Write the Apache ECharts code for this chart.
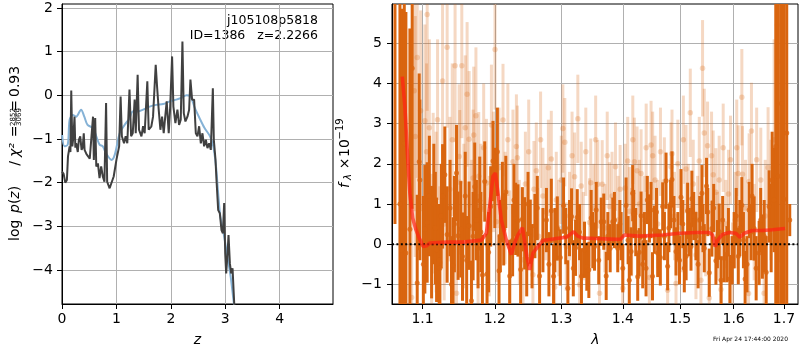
<!DOCTYPE html>
<html>
<head>
<meta charset="utf-8">
<script src="https://cdn.jsdelivr.net/npm/echarts@6.0.0/dist/echarts.min.js"></script>
<style>
  html, body { margin: 0; padding: 0; background: #fff; }
  #chart { width: 800px; height: 350px; }
</style>
</head>
<body>
<div id="chart"></div>
<script>
"use strict";

// ---- left panel: log p(z) ----
const zFit = [0.00,0.03,0.06,0.09,0.11,0.14,0.155,0.17,0.19,0.21,0.23,0.245,0.26,0.29,0.31,0.335,0.36,0.38,0.40,0.415,0.45,0.48,0.51,0.54,0.57,0.585,0.61,0.63,0.66,0.69,0.72,0.75,0.78,0.81,0.83,0.875,0.905,0.95,1.00,1.05,1.077,1.10,1.14,1.17,1.20,1.24,1.27,1.30,1.335,1.355,1.39,1.415,1.46,1.49,
  1.519,1.568,1.593,1.642,1.673,1.722,1.747,1.777,1.808,1.839,1.869,1.900,1.924,1.961,1.986,2.023,2.047,2.084,2.121,2.152,2.182,2.213,2.238,2.268,2.305,2.336,2.360,2.391,2.428,2.459,2.489,2.520,2.551,2.581,2.612,2.643,2.673,2.704,2.735,2.772,2.790,2.821,2.839,2.870,2.900,2.931,2.956,2.980,2.999,3.017,3.042,3.060,3.085,3.109,3.134,3.165,3.20];
const logpFit = [-1.75,-1.80,-2.00,-1.94,-1.40,-1.17,-1.30,0.11,-1.17,-0.94,-0.49,-1.20,-1.10,-1.30,-1.02,-0.94,-1.25,-1.20,-0.87,-1.25,-1.35,-1.40,-1.45,-1.48,-0.49,-1.48,-0.52,-1.63,-1.56,-1.90,-1.63,-1.86,-1.98,-0.18,-1.98,-2.13,-2.09,-1.86,-1.48,-1.17,-0.03,-0.94,-1.10,-0.94,-1.10,0.13,-0.94,-0.87,-0.10,-0.87,0.47,-0.79,-0.94,-0.71,
  -0.87,0.32,-0.79,-0.71,-0.49,0.70,0.20,-0.33,-0.79,-0.49,-0.87,-0.45,-0.14,-0.87,-0.33,0.89,-0.26,-0.64,-0.33,-0.68,-0.56,1.23,-0.41,-0.60,-0.49,-0.33,0.36,-0.10,-0.10,-0.87,-0.94,-0.71,-1.10,-0.87,-1.17,-1.02,-1.21,-1.10,-1.25,0.16,-1.02,-1.48,-1.94,-2.63,-2.70,-3.09,-3.16,-2.47,-3.62,-4.08,-3.62,-3.20,-3.85,-4.08,-3.96,-4.78,-5.40];
const zPrior = [0.003,0.045,0.106,0.14,0.20,0.26,0.35,0.41,0.47,0.57,0.63,0.69,0.75,0.81,0.91,0.97,1.06,1.15,1.24,1.30,1.40,1.49,1.61,1.73,1.86,1.98,2.10,2.19,2.29,2.36,2.44,2.53,2.62,2.72,2.78,2.83,2.87,2.91,2.97,3.03,3.10,3.16,3.22];
const logpPrior = [-0.91,-1.17,-1.13,-0.56,-0.45,-0.49,-0.33,-0.49,-0.68,-0.75,-0.94,-1.13,-1.17,-1.33,-1.48,-1.36,-0.87,-0.68,-0.53,-0.37,-0.37,-0.33,-0.26,-0.22,-0.20,-0.14,-0.10,-0.06,0.00,-0.02,-0.29,-0.53,-0.75,-0.94,-1.17,-1.63,-2.25,-2.78,-3.16,-3.62,-4.16,-4.78,-5.30];
const zTicks = [0, 1, 2, 3, 4];
const logpTicks = [-4, -3, -2, -1, 0, 1, 2];

// ---- right panel: spectrum (binned = dark, unbinned = light) ----
const binWave = [1.0640,1.0704,1.0726,1.0760,1.0781,1.0833,1.0863,1.0929,1.0955,1.0964,1.1030,1.1061,1.1120,1.1150,1.1187,1.1222,1.1231,1.1268,1.1299,1.1330,1.1412,1.1459,1.1481,1.1518,1.1542,1.1634,1.1667,1.1713,1.1737,1.1784,1.1822,1.1855,1.1888,1.1941,1.1974,1.2037,1.2061,1.2110,1.2129,1.2217,1.2305,1.2339,1.2379,1.2405,1.2439,1.2524,1.2594,1.2665,1.2716,1.2808,1.2845,1.2938,1.2984,1.3036,1.3104,1.3162,1.3226,1.3253,1.3369,1.3406,1.3439,1.3477,1.3503,1.3531,1.3559,1.3640,1.3683,1.3723,1.3789,1.3832,1.3860,1.3915,1.3972,1.4056,1.4141,1.4168,1.4185,1.4254,1.4312,1.4340,1.4398,1.4456,1.4485,1.4543,1.4601,1.4648,1.4689,1.4749,1.4777,1.4830,1.4855,1.4927,1.5017,1.5077,1.5137,1.5199,1.5215,1.5290,1.5401,1.5444,1.5486,1.5537,1.5587,1.5662,1.5724,1.5819,1.5871,1.5928,1.6010,1.6159,1.6223,1.6302,1.6400,1.6499,1.6564,1.6698,1.6799,1.6833,1.6886,1.6950,1.7002,1.7057,1.7119,
  1.1010,1.1090,1.1170,1.1250,1.1370,1.1390,1.1430,1.1580,1.1600,1.1690,1.1760,1.1800,1.1910,1.2000,1.2080,1.2160,1.2260,1.2280,1.2470,1.2490,1.2550,1.2630,1.2770,1.2880,1.2900,1.3070,1.3130,1.3190,1.3290,1.3320,1.3600,1.3750,1.3950,1.4000,1.4090,1.4110,1.4220,1.4280,1.4370,1.4420,1.4510,1.4580,1.4720,1.4800,1.4890,1.4960,1.4990,1.5050,1.5110,1.5170,1.5250,1.5330,1.5360,1.5420,1.5510,1.5620,1.5690,1.5760,1.5790,1.5900,1.5970,1.6050,1.6090,1.6120,1.6190,1.6260,1.6340,1.6360,1.6440,1.6530,1.6600,1.6640,1.6740,1.6760];
const binFlux = [6.5,1.0,-0.14,2.5,-0.22,0.37,4.38,-0.97,2.05,1.60,0.37,0.54,0.05,1.00,-0.14,-0.40,-0.60,1.19,1.73,0.24,-0.53,1.77,0.21,0.37,-0.31,0.46,-1.41,1.43,0.60,1.08,-0.77,1.56,-0.74,0.94,2.07,2.30,-0.66,1.05,0.37,-0.79,0.63,0.59,-0.63,0.62,0.27,0.31,0.45,-0.79,0.10,-0.50,0.83,0.39,-0.33,0.96,-1.10,0.69,-0.09,0.67,-0.14,-0.56,-0.64,0.65,0.10,-0.06,0.85,0.56,0.56,-0.79,-0.10,0.56,0.60,-0.10,0.20,0.96,-0.18,1.27,0.75,-0.81,0.71,-0.50,-0.60,0.64,0.85,0.36,-0.22,-0.33,0.94,1.58,-0.55,1.00,1.61,-0.18,1.17,-0.60,0.83,-0.06,1.13,0.20,1.27,-0.10,1.45,-0.71,0.39,-0.41,0.31,-0.35,-0.25,-0.87,0.10,0.97,-0.87,0.85,0.39,-0.22,-0.06,0.94,1.10,2.43,1.69,3.50,1.12,2.77,0.60,
  -0.5,1.2,0.4,0.7,0.9,-1.0,0.5,1.2,-0.4,0.2,-0.1,0.3,-0.2,1.4,0.2,1.3,0.1,1.1,-0.5,1.0,-0.3,0.9,0.6,-0.8,0.1,0.2,0.4,-0.6,0.3,-0.8,-0.4,0.2,0.5,-0.6,0.1,-0.9,0.3,-0.2,0.2,1.1,-0.8,0.8,0.2,0.4,0.6,0.2,-0.4,0.5,-0.3,0.3,0.7,-0.5,0.6,0.4,0.8,0.9,0.0,-0.9,0.6,0.3,-0.4,0.7,-0.3,0.4,0.1,-0.5,0.3,1.2,-0.6,0.6,0.2,-0.7,0.4,1.6];
const binErr = [6.0,7.0,6.0,6.0,6.0,5.0,3.5,2.2,2.2,2.0,1.6,1.5,1.4,1.5,1.3,1.4,1.2,1.3,1.2,1.2,1.2,1.2,1.1,1.2,1.1,1.1,1.0,1.1,1.0,1.1,1.0,1.0,1.0,1.0,1.0,1.1,0.9,1.0,0.9,0.9,0.9,0.9,0.9,0.8,0.9,0.8,0.8,0.8,0.8,0.8,0.8,0.8,0.7,0.7,0.7,0.7,0.7,0.7,0.7,0.6,0.7,0.7,0.7,0.6,0.7,0.6,0.7,0.6,0.6,0.6,0.7,0.6,0.6,0.7,0.6,0.7,0.6,0.6,0.6,0.6,0.7,0.6,0.7,0.6,0.6,0.7,0.6,0.7,0.6,0.6,0.7,0.6,0.7,0.6,0.7,0.6,0.7,0.6,0.7,0.6,0.7,0.6,0.7,0.6,0.7,0.6,0.7,0.6,0.7,0.7,0.7,0.7,0.8,0.8,0.8,0.9,1.3,4.0,5.0,8.0,8.0,8.0,0.4,
  1.7,1.5,1.4,1.3,1.2,1.2,1.2,1.1,1.1,1.1,1.0,1.0,1.0,1.0,0.9,0.9,0.9,0.9,0.8,0.8,0.8,0.8,0.8,0.8,0.8,0.7,0.7,0.7,0.7,0.7,0.6,0.6,0.6,0.6,0.6,0.6,0.6,0.6,0.6,0.6,0.6,0.6,0.6,0.6,0.6,0.6,0.6,0.6,0.6,0.6,0.6,0.6,0.6,0.6,0.6,0.6,0.6,0.6,0.6,0.6,0.6,0.7,0.7,0.7,0.7,0.7,0.7,0.8,0.8,0.8,0.9,0.9,1.1,1.2];

const rawWave = [1.0856,1.0890,1.0903,1.0929,1.0974,1.1030,1.1053,1.1061,1.1120,1.1141,1.1231,1.1268,1.1330,1.1367,1.1439,1.1459,1.1495,1.1504,1.1532,1.1606,1.1634,1.1690,1.1699,1.1760,1.1770,1.1879,1.1951,1.2003,1.2023,1.2119,1.2217,1.2265,1.2316,1.2330,1.2414,1.2564,1.2579,1.2615,1.2716,1.2845,1.2896,1.2922,1.3025,1.3056,1.3078,1.3210,1.3262,1.3289,1.3316,1.3450,1.3470,1.3585,1.3613,1.3657,1.3777,1.3877,1.3955,1.3999,1.4083,1.4112,1.4197,1.4243,1.4283,1.4312,1.4456,1.4485,1.4513,1.4555,1.4719,1.4777,1.4838,1.4855,1.4927,1.5108,1.5186,1.5290,1.5351,1.5382,1.5412,1.5444,1.5505,1.5537,1.5611,1.5662,1.5724,1.5757,1.5901,1.5978,1.6088,1.6159,1.6171,1.6290,1.6302,1.6347,1.6532,1.6598,1.6678,1.6732,1.6865,1.6900,
  1.2060,1.2150,1.2190,1.2360,1.2450,1.2500,1.2650,1.2680,1.2760,1.2800,1.2960,1.3000,1.1090,1.1180,1.1200,1.1290,1.1400,1.1560,1.1580,1.1670,1.1730,1.1800,1.1840,1.1920,1.1980,1.3130,1.3170,1.3350,1.3390,1.3520,1.3550,1.3700,1.3740,1.3820,1.3920,1.4040,1.4150,1.4170,1.4370,1.4400,1.4600,1.4650,1.4900,1.4960,1.5030,1.5060,1.5150,1.5240,1.5320,1.5470,1.5580,1.5690,1.5800,1.5850,1.5940,1.6030,1.6060,1.6230,1.6400,1.6450,1.6620,1.6800,1.6940];
const rawFlux = [-1.33,3.82,2.68,4.65,3.32,3.07,2.30,5.72,-0.25,1.27,-0.46,4.06,4.90,1.37,4.44,-1.22,2.18,1.54,4.44,3.73,2.61,1.65,2.72,-0.35,1.69,1.52,2.97,4.85,0.56,3.09,-0.06,2.05,2.43,2.15,-0.39,-0.76,1.37,1.83,1.20,2.12,-1.07,1.10,2.88,2.54,-0.06,1.68,3.12,-1.01,1.45,0.54,1.53,1.49,-1.22,1.49,0.94,1.93,1.37,-1.10,2.07,0.82,2.05,1.83,1.00,1.76,-0.83,2.47,2.20,1.60,1.56,-1.15,1.93,2.25,-0.98,1.87,3.27,-0.27,2.07,-0.90,4.38,2.77,2.45,-1.34,1.73,1.29,1.60,-1.13,1.25,-0.56,1.76,3.66,1.74,-1.23,1.56,2.82,1.60,-1.22,1.91,1.10,5.46,4.55,
  1.9,0.9,2.6,0.3,1.5,2.3,0.2,2.6,0.8,1.9,0.4,1.6,2.9,0.8,3.1,0.5,2.6,0.7,2.9,0.4,3.2,0.9,2.4,0.2,1.8,0.7,2.2,0.2,2.3,0.9,2.6,0.4,2.2,1.2,0.6,1.4,0.3,2.6,0.6,2.4,0.5,2.3,0.7,2.0,0.4,2.6,0.9,1.5,0.6,0.3,2.2,0.2,2.4,0.5,2.1,0.6,2.4,0.9,0.3,2.1,0.7,2.6,3.5];
const rawErr = [3.0,3.0,3.0,3.0,2.5,2.4,2.2,2.4,2.0,2.0,1.9,2.0,2.0,1.8,1.9,1.8,1.8,1.8,1.8,1.8,1.7,1.7,1.7,1.6,1.6,1.6,1.5,1.5,1.5,1.4,1.4,1.3,1.3,1.3,1.3,1.2,1.2,1.2,1.2,1.2,1.2,1.2,1.1,1.1,1.1,1.1,1.1,1.1,1.1,1.1,1.1,1.1,1.1,1.1,1.1,1.1,1.1,1.1,1.1,1.1,1.1,1.1,1.1,1.1,1.1,1.1,1.1,1.1,1.1,1.1,1.1,1.1,1.1,1.1,1.1,1.1,1.1,1.1,1.2,1.1,1.1,1.1,1.1,1.1,1.1,1.1,1.1,1.1,1.2,1.2,1.2,1.2,1.2,1.2,1.3,1.3,1.5,1.5,4.0,5.0,
  1.5,1.4,1.4,1.3,1.3,1.3,1.2,1.2,1.2,1.2,1.2,1.1,2.2,2.0,2.0,1.9,1.9,1.8,1.8,1.7,1.7,1.6,1.6,1.5,1.5,1.1,1.1,1.1,1.1,1.1,1.1,1.1,1.1,1.1,1.1,1.1,1.1,1.1,1.1,1.1,1.1,1.1,1.1,1.1,1.1,1.1,1.1,1.1,1.1,1.1,1.1,1.1,1.1,1.1,1.1,1.2,1.2,1.2,1.2,1.3,1.4,2.5,5.0];

const modelWave = [1.0734,1.0768,1.0798,1.0833,1.0869,1.0912,1.0955,1.1008,1.1053,1.1097,1.1322,1.1550,1.1808,1.1879,1.1926,1.1974,1.2008,1.2046,1.2095,1.2168,1.2242,1.2290,1.2339,1.2405,1.2424,1.2473,1.2514,1.2564,1.2639,1.2716,1.2922,1.3078,1.3130,1.3194,1.3262,1.3342,1.3559,1.3888,1.3972,1.4028,1.4283,1.4689,1.4986,1.5290,1.5537,1.5598,1.5649,1.5692,1.5787,1.5914,1.6043,1.6120,1.6204,1.6366,1.6564,1.6764,1.7022];
const modelFlux = [4.17,3.43,2.35,1.27,0.65,0.36,0.15,-0.06,-0.04,0.03,0.05,0.05,0.10,0.28,0.94,1.69,1.77,1.27,0.60,0.10,-0.26,0.03,0.23,0.41,0.23,-0.31,-0.64,-0.22,-0.06,0.09,0.14,0.17,0.23,0.31,0.20,0.15,0.14,0.12,0.13,0.23,0.20,0.23,0.27,0.29,0.29,0.23,-0.06,0.10,0.24,0.29,0.27,0.17,0.27,0.34,0.34,0.36,0.39];
const waveTicks = [1.1, 1.2, 1.3, 1.4, 1.5, 1.6, 1.7];
const fluxTicks = [-1, 0, 1, 2, 3, 4, 5];

const FONT = "DejaVu Sans";
const ORANGE = "#d9650f";
const GRID_GRAY = "#b0b0b0";

const minus = (v) => String(v).replace("-", "\u2212");

function axisStyle(ticks, formatter, margin) {
  return {
    axisLine: { show: true, onZero: false, lineStyle: { color: "#000", width: 1 } },
    axisTick: { show: true, length: 5, customValues: ticks, lineStyle: { color: "#000", width: 1 } },
    axisLabel: { customValues: ticks, formatter, color: "#000", fontFamily: FONT, fontSize: 14, margin },
    splitLine: { show: true, lineStyle: { color: GRID_GRAY, width: 1 } },
  };
}

// vertical error bar drawn through the axes' own coordinate mapping
function errorBars(color, width) {
  return (params, api) => {
    const x = api.value(0), y = api.value(1), e = api.value(2);
    const a = api.coord([x, y - e]);
    const b = api.coord([x, y + e]);
    return {
      type: "line",
      shape: { x1: a[0], y1: a[1], x2: b[0], y2: b[1] },
      style: { stroke: color, lineWidth: width },
    };
  };
}

const zip2 = (xs, ys) => xs.map((x, i) => [x, ys[i]]);
const zip3 = (xs, ys, es) => xs.map((x, i) => [x, ys[i], es[i]]);

function txt(text, x, y, size, align, extra) {
  return {
    type: "text", x, y, silent: true,
    style: Object.assign({ text, fontFamily: FONT, fontSize: size, fill: "#000", align, verticalAlign: "middle" }, extra || {}),
  };
}
const italic = { fontStyle: "italic" };

const chart = echarts.init(document.getElementById("chart"), null, { renderer: "canvas" });

chart.setOption({
  animation: false,
  backgroundColor: "#fff",
  textStyle: { fontFamily: FONT },
  grid: [
    { left: 62, top: 4, width: 271, height: 300, show: true, borderColor: "#000", borderWidth: 1, backgroundColor: "transparent" },
    { left: 392, top: 4, width: 406, height: 300, show: true, borderColor: "#000", borderWidth: 1, backgroundColor: "transparent" },
  ],
  xAxis: [
    Object.assign({ type: "value", gridIndex: 0, min: 0, max: 4.98 }, axisStyle(zTicks, (v) => String(v), 8)),
    Object.assign({ type: "log", logBase: 10, gridIndex: 1, min: 1.0602, max: 1.729 }, axisStyle(waveTicks, (v) => Number(v).toFixed(1), 8)),
  ],
  yAxis: [
    Object.assign({ type: "value", gridIndex: 0, min: -4.78, max: 2.09 }, axisStyle(logpTicks, minus, 9)),
    Object.assign({ type: "value", gridIndex: 1, min: -1.49, max: 5.98 }, axisStyle(fluxTicks, minus, 10)),
  ],
  series: [
    {
      type: "line", xAxisIndex: 0, yAxisIndex: 0, data: zip2(zPrior, logpPrior),
      showSymbol: false, smooth: 0.3, lineStyle: { color: "#85b2d6", width: 2 }, silent: true, z: 2,
    },
    {
      type: "line", xAxisIndex: 0, yAxisIndex: 0, data: zip2(zFit, logpFit),
      showSymbol: false, lineStyle: { color: "#404040", width: 2 }, silent: true, z: 3,
    },
    {
      type: "custom", xAxisIndex: 1, yAxisIndex: 1, data: zip3(rawWave, rawFlux, rawErr),
      encode: { x: 0, y: 1 }, renderItem: errorBars("rgba(217,101,15,0.25)", 3), clip: true, silent: true, z: 2,
    },
    {
      type: "scatter", xAxisIndex: 1, yAxisIndex: 1, data: zip2(rawWave, rawFlux),
      symbolSize: 5.5, itemStyle: { color: "rgba(217,101,15,0.3)" }, clip: true, silent: true, z: 2,
    },
    {
      type: "custom", xAxisIndex: 1, yAxisIndex: 1, data: zip3(binWave, binFlux, binErr),
      encode: { x: 0, y: 1 }, renderItem: errorBars(ORANGE, 3), clip: true, silent: true, z: 3,
    },
    {
      type: "scatter", xAxisIndex: 1, yAxisIndex: 1, data: zip2(binWave, binFlux),
      symbolSize: 5, itemStyle: { color: ORANGE }, clip: true, silent: true, z: 3,
    },
    {
      type: "line", xAxisIndex: 1, yAxisIndex: 1, data: [[1.0602, 0], [1.729, 0]],
      showSymbol: false, lineStyle: { color: "#000", width: 2, type: [2, 2.4] }, silent: true, z: 4,
    },
    {
      type: "line", xAxisIndex: 1, yAxisIndex: 1, data: zip2(modelWave, modelFlux),
      showSymbol: false, lineStyle: { color: "rgba(255,35,20,0.72)", width: 3.6 }, silent: true, z: 5,
    },
  ],
  graphic: [
    // object label in the p(z) panel
    txt("j105108p5818", 318, 20.5, 12.5, "right"),
    txt("ID=1386   z=2.2266", 318, 35.5, 12.5, "right"),
    // axis names
    txt("z", 197.5, 340, 14, "center", italic),
    txt("\u03bb", 595.5, 340, 14, "center", italic),
    txt("Fri Apr 24 17:44:00 2020", 788, 339.5, 6, "right"),
    // left y label: log p(z) / chi^2 = 2852/3069 = 0.93
    {
      type: "group", x: 15, y: 155, rotation: Math.PI / 2, silent: true,
      children: [
        txt("log", -86, 0, 14, "left"),
        txt("{i|p}({i|z})", -58, 0, 14, "left", { rich: { i: { fontStyle: "italic", fontFamily: FONT, fontSize: 14 } } }),
        txt("/", -8.5, 0, 14, "center"),
        txt("\u03c7\u00b2", -2, 0, 14, "left", italic),
        txt("=", 23.5, 0, 14, "center"),
        txt("2852", 38, -2.2, 7, "center"),
        { type: "line", shape: { x1: 32, y1: 0.8, x2: 44, y2: 0.8 }, style: { stroke: "#000", lineWidth: 0.7 } },
        txt("3069", 38, 4, 7, "center"),
        txt("=", 49, 0, 14, "center"),
        txt("0.93", 58, 0, 14, "left"),
      ],
    },
    // right y label: f_lambda x 10^-19
    {
      type: "group", x: 345, y: 155, rotation: Math.PI / 2, silent: true,
      children: [
        txt("f", -33, 0, 14, "left", italic),
        txt("\u03bb", -25, 3.5, 10, "left", italic),
        txt("\u00d7", -8.5, 0, 14, "center"),
        txt("10", -2, 0, 14, "left"),
        txt("\u221219", 15.5, -5, 10, "left"),
      ],
    },
  ],
});
</script>
</body>
</html>
